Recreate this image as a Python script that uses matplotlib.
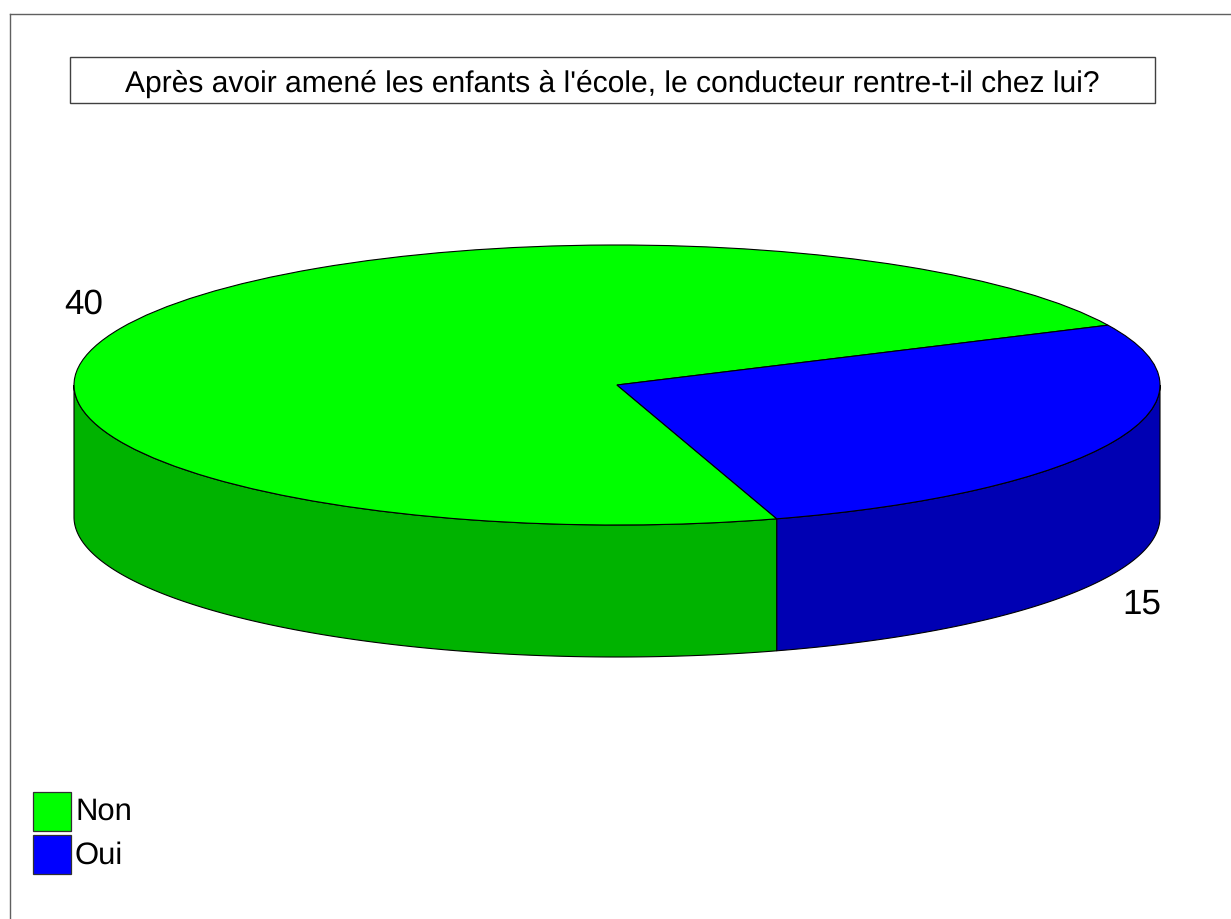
import numpy as np
import matplotlib.pyplot as plt
from matplotlib.patches import Rectangle

plt.rcParams['font.family'] = ['Liberation Sans', 'DejaVu Sans']
plt.rcParams['text.hinting'] = 'no_hinting'
plt.rcParams['text.hinting_factor'] = 1

title = "Après avoir amené les enfants à l'école, le conducteur rentre-t-il chez lui?"
categories = ['Non', 'Oui']
values = [40, 15]
top_colors = ['#00FF00', '#0000FF']
side_colors = ['#00B300', '#0000B3']

W, H = 1231, 920
# ellipse of the pie in pixels
cx, cy, rx, ry = 617, 386, 543, 140
depth = 132 / ry
start_angle = 25.3

fig = plt.figure(figsize=(W / 100, H / 100), dpi=100)
ax = fig.add_axes([0, 0, 1, 1])


# pixel position to figure fraction
def fx(px):
    return px / W


def fy(py):
    return 1 - py / H


# walls of the cylinder, only the front half is visible
angle = start_angle
for value, color in zip(values, side_colors):
    sweep = value / sum(values) * 360
    for shift in (0, 360):
        t0 = max(angle - shift, 180)
        t1 = min(angle + sweep - shift, 360)
        if t1 <= t0:
            continue
        t = np.radians(np.linspace(t0, t1, 200))
        xs = np.concatenate([np.cos(t), np.cos(t[::-1])])
        ys = np.concatenate([np.sin(t), np.sin(t[::-1]) - depth])
        ax.fill(xs, ys, facecolor=color, edgecolor='black', linewidth=0.8, zorder=1)
    angle += sweep

# top of the pie
wedges, _ = ax.pie(values, colors=top_colors, startangle=start_angle, counterclock=True,
                   wedgeprops={'edgecolor': 'black', 'linewidth': 0.8})
for w in wedges:
    w.set_zorder(2)

ax.set_aspect('auto')
ax.set_xlim(-cx / rx, (W - cx) / rx)
ax.set_ylim((cy - H) / ry, cy / ry)
ax.axis('off')

# outer frame, open on the right and at the bottom
frame = '#606060'
fig.add_artist(plt.Line2D([fx(10), fx(10)], [fy(15), fy(H)], color=frame, lw=1))
fig.add_artist(plt.Line2D([fx(10), fx(W)], [fy(15), fy(15)], color=frame, lw=1))

# title box
fig.add_artist(Rectangle((fx(69.5), fy(104)), fx(1155 - 69.5), 104 / H - 57.5 / H,
                         transform=fig.transFigure, facecolor='white', edgecolor='#404040', lw=1))
fig.text(fx(612), fy(84), title, fontsize=21.8, ha='center', va='center', color='black')

# value labels
fig.text(fx(84), fy(304.5), str(values[0]), fontsize=25, ha='center', va='center', color='black')
fig.text(fx(1142), fy(604.5), str(values[1]), fontsize=25, ha='center', va='center', color='black')

# legend
for i, (cat, color) in enumerate(zip(categories, top_colors)):
    top = 793 + i * 43.3
    fig.add_artist(Rectangle((fx(32.5), fy(top + 38.5)), 38.5 / W, 38.5 / H,
                             transform=fig.transFigure, facecolor=color, edgecolor='#303030', lw=0.9))
    fig.text(fx(75), fy(top + 27), cat, fontsize=22, ha='left', va='baseline', color='black')

fig.savefig('out.png', dpi=100, facecolor='white')
